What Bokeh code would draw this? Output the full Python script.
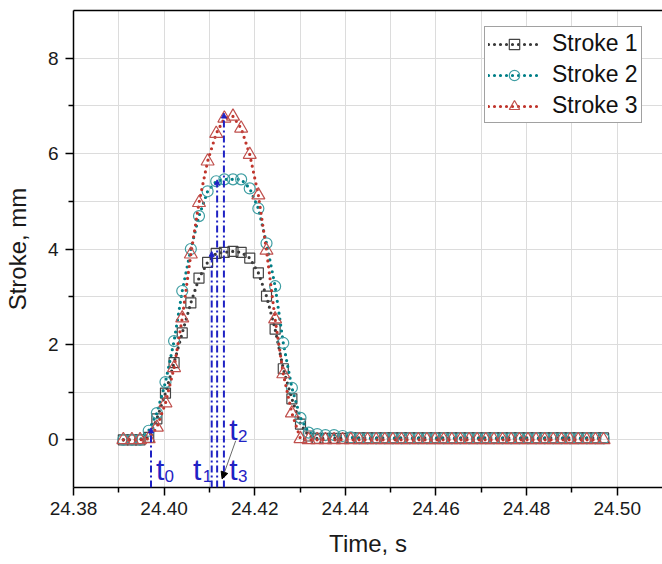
from bokeh.plotting import figure
from bokeh.models import (FixedTicker, PrintfTickFormatter, LinearAxis, Arrow,
                          NormalHead, ColumnDataSource, Legend, LegendItem, Range1d)
from bokeh.core.properties import value
from bokeh.embed import file_html
from bokeh.resources import INLINE

# ---------------- data ----------------
time = [24.3910, 24.3929, 24.3947, 24.3966, 24.3984, 24.4003, 24.4022, 24.4040,
        24.4059, 24.4077, 24.4096, 24.4115, 24.4133, 24.4152, 24.4170, 24.4189,
        24.4208, 24.4226, 24.4245, 24.4263, 24.4282, 24.4301, 24.4319, 24.4338,
        24.4356, 24.4375, 24.4394, 24.4412, 24.4431, 24.4449, 24.4468, 24.4487,
        24.4505, 24.4524, 24.4542, 24.4561, 24.4580, 24.4598, 24.4617, 24.4635,
        24.4654, 24.4673, 24.4691, 24.4710, 24.4728, 24.4747, 24.4766, 24.4784,
        24.4803, 24.4821, 24.4840, 24.4859, 24.4877, 24.4896, 24.4914, 24.4933,
        24.4952, 24.4970]

stroke1 = [0.00, 0.00, 0.00, 0.05, 0.44, 0.98, 1.62, 2.24, 2.87, 3.39, 3.72, 3.91,
           3.93, 3.95, 3.93, 3.81, 3.50, 3.01, 2.32, 1.49, 0.86, 0.33, 0.08, 0.03,
           0.03, 0.03, 0.03, 0.04, 0.04, 0.04, 0.04, 0.04, 0.04, 0.04, 0.04, 0.04,
           0.04, 0.04, 0.04, 0.04, 0.04, 0.04, 0.04, 0.04, 0.04, 0.04, 0.04, 0.04,
           0.04, 0.04, 0.04, 0.04, 0.04, 0.04, 0.04, 0.04, 0.04, 0.04]

stroke2 = [0.00, 0.00, 0.00, 0.19, 0.56, 1.21, 2.07, 3.12, 4.00, 4.69, 5.21, 5.42,
           5.46, 5.46, 5.46, 5.27, 4.85, 4.12, 3.22, 2.03, 1.09, 0.46, 0.15, 0.12,
           0.10, 0.10, 0.08, 0.05, 0.03, 0.03, 0.03, 0.03, 0.03, 0.03, 0.03, 0.03,
           0.03, 0.03, 0.03, 0.03, 0.03, 0.03, 0.03, 0.03, 0.03, 0.03, 0.03, 0.03,
           0.03, 0.03, 0.03, 0.03, 0.03, 0.03, 0.03, 0.03, 0.03, 0.03]

stroke3 = [0.00, 0.00, 0.00, 0.02, 0.26, 0.77, 1.51, 2.55, 3.89, 4.97, 5.84, 6.42,
           6.74, 6.78, 6.53, 5.98, 5.13, 3.97, 2.53, 1.38, 0.56, 0.02, 0.00, 0.00,
           0.00, 0.00, 0.00, 0.00, 0.00, 0.00, 0.00, 0.00, 0.00, 0.00, 0.00, 0.00,
           0.00, 0.00, 0.00, 0.00, 0.00, 0.00, 0.00, 0.00, 0.00, 0.00, 0.00, 0.00,
           0.00, 0.00, 0.00, 0.00, 0.00, 0.00, 0.00, 0.00, 0.00, 0.00]

series_names = ["Stroke 1", "Stroke 2", "Stroke 3"]

# time markers t0..t3 (vertical dash-dot lines)
mark_x = [24.3971, 24.4105, 24.4117, 24.4132]
mark_bottom = [-1.0, -1.0, -1.0, -1.0]
mark_top = [0.25, 3.95, 5.45, 6.85]

# annotation labels  t0, t1, t2, t3
lab_main = ["t", "t", "t", "t"]
lab_sub = ["0", "1", "2", "3"]
lab_x = [24.3982, 24.4064, 24.4144, 24.4144]
lab_y = [-0.63, -0.63, 0.21, -0.63]
sub_x = [24.4001, 24.4085, 24.4163, 24.4163]
sub_y = [-0.76, -0.76, 0.08, -0.76]

# leader arrow from t2 label
lead_x0, lead_y0 = 24.4158, -0.02
lead_x1, lead_y1 = 24.4128, -0.82

x_major = [24.38, 24.40, 24.42, 24.44, 24.46, 24.48, 24.50]
x_minor = [24.39, 24.41, 24.43, 24.45, 24.47, 24.49]
y_major = [0, 2, 4, 6, 8]
y_minor = [1, 3, 5, 7]

FONT = "Liberation Sans"
BLUE = "#1f22c4"

p = figure(width=662, height=564, output_backend="svg", toolbar_location=None,
           x_range=Range1d(24.38, 24.51), y_range=Range1d(-1, 9),
           min_border_left=71, min_border_right=0, min_border_top=10,
           min_border_bottom=77)
p.outline_line_color = None
p.background_fill_color = "white"
p.border_fill_color = "white"

xt = FixedTicker(ticks=x_major, minor_ticks=x_minor)
yt = FixedTicker(ticks=y_major, minor_ticks=y_minor)
p.xaxis.ticker = xt
p.yaxis.ticker = yt
p.xaxis.formatter = PrintfTickFormatter(format="%.2f")

for ax in (p.xaxis[0], p.yaxis[0]):
    ax.axis_line_color = "black"
    ax.axis_line_width = 1.5
    ax.major_tick_line_color = "black"
    ax.major_tick_line_width = 1.5
    ax.minor_tick_line_color = "black"
    ax.minor_tick_line_width = 1.5
    ax.major_tick_in = 0
    ax.major_tick_out = 8
    ax.minor_tick_in = 0
    ax.minor_tick_out = 5
    ax.major_label_text_font = FONT
    ax.major_label_text_font_size = "19px"
    ax.major_label_text_color = "#1a1a1a"
    ax.axis_label_text_font = FONT
    ax.axis_label_text_font_size = "24px"
    ax.axis_label_text_font_style = "normal"
    ax.axis_label_text_color = "#1a1a1a"

p.xaxis.axis_label = "Time, s"
p.yaxis.axis_label = "Stroke, mm"
p.xaxis.major_label_standoff = 6
p.xaxis.axis_label_standoff = 12
p.yaxis.major_label_standoff = 7
p.yaxis.axis_label_standoff = 14

top_axis = LinearAxis(ticker=FixedTicker(ticks=[]), axis_line_color="black",
                      axis_line_width=1.5, major_tick_line_color=None,
                      minor_tick_line_color=None, major_label_standoff=0,
                      axis_label_standoff=0)
p.add_layout(top_axis, "above")

for g in (p.xgrid[0], p.ygrid[0]):
    g.grid_line_color = "#dcdcdc"
    g.grid_line_width = 1
    g.minor_grid_line_color = "#dcdcdc"
    g.minor_grid_line_width = 1

# ---------------- series ----------------
styles = [
    dict(y=stroke1, line="#3a3a3a", mk="#444444", marker="square", size=10),
    dict(y=stroke2, line="#007f87", mk="#3f9ea3", marker="circle", size=11),
    dict(y=stroke3, line="#c0352c", mk="#c0504d", marker="triangle", size=13),
]
items = []
for name, st in zip(series_names, styles):
    src = ColumnDataSource(dict(x=time, y=st["y"]))
    rl = p.line("x", "y", source=src, line_color=st["line"], line_width=3.2,
                line_dash="0 6", line_cap="round")
    rm = p.scatter("x", "y", source=src, marker=st["marker"], size=st["size"],
                   line_color=st["mk"], line_width=1.2, fill_color=None)
    items.append(LegendItem(label=name, renderers=[rl, rm]))

# ---------------- vertical markers ----------------
msrc = ColumnDataSource(dict(x=mark_x, y0=mark_bottom, y1=mark_top))
p.add_layout(Arrow(source=msrc, x_start="x", y_start="y0", x_end="x", y_end="y1",
                   line_color=BLUE, line_width=2, line_dash="7 3 2 3",
                   end=NormalHead(size=5, fill_color=BLUE, line_color=BLUE)))

p.add_layout(Arrow(x_start=lead_x0, y_start=lead_y0, x_end=lead_x1, y_end=lead_y1,
                   line_color="#444444", line_width=0.8,
                   end=NormalHead(size=7, fill_color="black", line_color="black")))

p.text(x=lab_x, y=lab_y, text=lab_main, text_font=value(FONT),
       text_font_size="30px", text_color=BLUE, text_align="left",
       text_baseline="alphabetic")
p.text(x=sub_x, y=sub_y, text=lab_sub, text_font=value(FONT),
       text_font_size="17px", text_color=BLUE, text_align="left",
       text_baseline="alphabetic")

# ---------------- legend ----------------
legend = Legend(items=items, location=(411, 364))
legend.label_text_font = FONT
legend.label_text_font_size = "23px"
legend.label_text_color = "#111111"
legend.padding = 3
legend.spacing = 4
legend.margin = 0
legend.glyph_width = 52
legend.glyph_height = 26
legend.label_height = 26
legend.label_standoff = 12
legend.border_line_color = "#444444"
legend.border_line_width = 1
legend.background_fill_color = "white"
legend.background_fill_alpha = 1
p.add_layout(legend, "center")

open("out.html", "w").write(file_html(p, INLINE))
